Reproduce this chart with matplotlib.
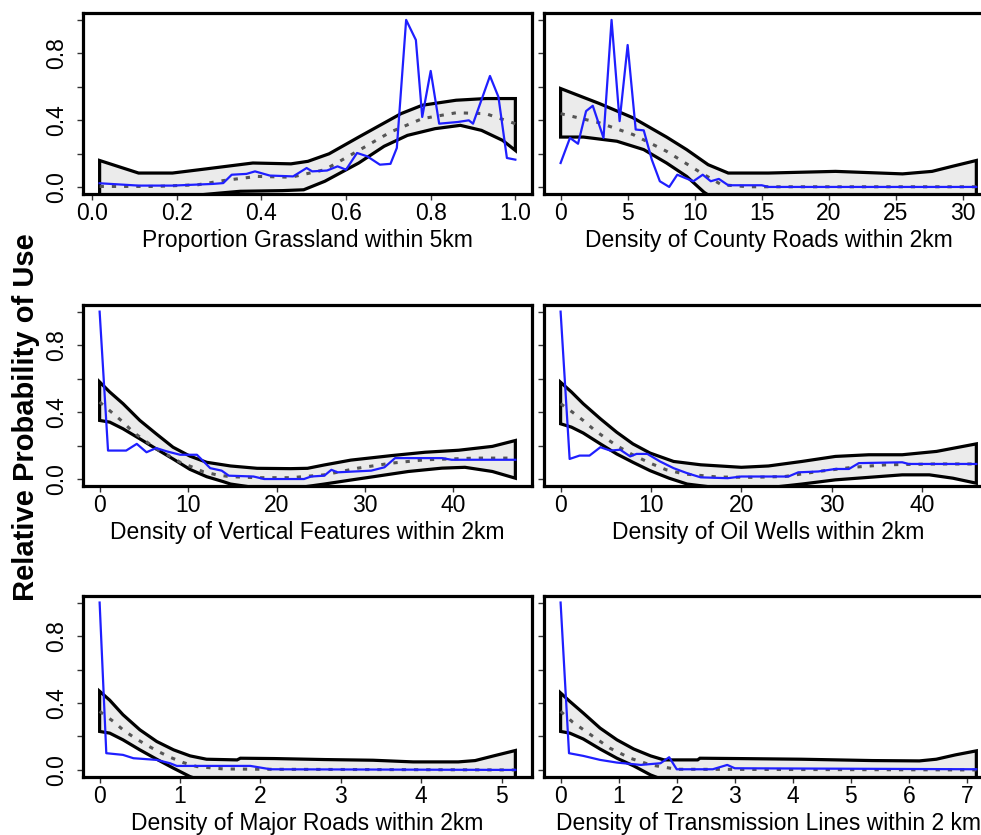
import numpy as np
import matplotlib
matplotlib.use("Agg")
import matplotlib.pyplot as plt

plt.rcParams['font.family'] = ['Liberation Sans', 'DejaVu Sans']

# panel titles (x labels) and x tick values
xlabels = ["Proportion Grassland within 5km", "Density of County Roads within 2km",
           "Density of Vertical Features within 2km", "Density of Oil Wells within 2km",
           "Density of Major Roads within 2km", "Density of Transmission Lines within 2 km"]
xticks = [[0.0, 0.2, 0.4, 0.6, 0.8, 1.0], [0, 5, 10, 15, 20, 25, 30],
          [0, 10, 20, 30, 40], [0, 10, 20, 30, 40],
          [0, 1, 2, 3, 4, 5], [0, 1, 2, 3, 4, 5, 6, 7]]

# 1 grassland
grass_up_x = [0.018, 0.11, 0.19, 0.27, 0.38, 0.47, 0.51, 0.56, 0.63, 0.68, 0.73, 0.78, 0.86, 0.93, 1.0]
grass_up_y = [0.16, 0.085, 0.085, 0.11, 0.145, 0.14, 0.155, 0.20, 0.30, 0.37, 0.44, 0.49, 0.52, 0.53, 0.53]
grass_lo_x = [0.018, 0.15, 0.3, 0.35, 0.45, 0.5, 0.55, 0.63, 0.69, 0.745, 0.81, 0.87, 0.92, 0.97, 1.0]
grass_lo_y = [-0.10, -0.07, -0.035, -0.024, -0.02, -0.015, 0.036, 0.145, 0.245, 0.31, 0.35, 0.37, 0.34, 0.28, 0.22]
grass_mean_x = [0.018, 0.15, 0.25, 0.31, 0.39, 0.47, 0.55, 0.63, 0.705, 0.78, 0.86, 0.93, 1.0]
grass_mean_y = [0.005, 0.005, 0.015, 0.04, 0.065, 0.06, 0.105, 0.22, 0.33, 0.41, 0.445, 0.44, 0.38]
grass_obs_x = [0.018, 0.11, 0.19, 0.285, 0.31, 0.33, 0.365, 0.385, 0.42, 0.475, 0.507, 0.52, 0.555, 0.58,
               0.60, 0.626, 0.65, 0.68, 0.705, 0.72, 0.742, 0.765, 0.78, 0.80, 0.82, 0.864, 0.89, 0.90,
               0.94, 0.96, 0.98, 1.0]
grass_obs_y = [0.024, 0.01, 0.01, 0.02, 0.025, 0.075, 0.08, 0.095, 0.07, 0.065, 0.115, 0.095, 0.10, 0.125,
               0.105, 0.205, 0.185, 0.135, 0.14, 0.235, 1.0, 0.88, 0.42, 0.695, 0.38, 0.39, 0.40, 0.38,
               0.665, 0.54, 0.175, 0.165]

# 2 county roads
county_up_x = [0, 2.9, 5.4, 7.9, 9.4, 11.0, 12.5, 15.5, 20.5, 25.5, 27.7, 29.2, 31.0]
county_up_y = [0.59, 0.50, 0.415, 0.30, 0.225, 0.135, 0.085, 0.085, 0.095, 0.08, 0.095, 0.125, 0.16]
county_lo_x = [0, 1.7, 4.2, 6.2, 7.9, 9.4, 10.7, 13, 20, 31.0]
county_lo_y = [0.30, 0.30, 0.275, 0.225, 0.145, 0.065, -0.03, -0.15, -0.2, -0.15]
county_mean_x = [0, 2.9, 5.4, 7.9, 10.5, 12.0, 14, 31.0]
county_mean_y = [0.44, 0.385, 0.315, 0.215, 0.085, 0.015, 0.003, 0.003]
county_obs_x = [0, 0.7, 1.3, 1.9, 2.4, 3.2, 3.8, 4.4, 5.0, 5.6, 6.2, 6.8, 7.4, 8.1, 8.7, 9.3, 9.9,
                10.6, 11.2, 11.8, 12.5, 15.0, 15.5, 31.0]
county_obs_y = [0.145, 0.295, 0.26, 0.455, 0.487, 0.295, 1.0, 0.395, 0.85, 0.345, 0.34, 0.165, 0.036,
                0.002, 0.075, 0.055, 0.036, 0.075, 0.036, 0.05, 0.012, 0.012, 0.002, 0.002]

# 3 vertical features
vert_up_x = [0, 1.14, 2.65, 4.55, 6.4, 8.3, 10.2, 12.1, 14.8, 17.8, 21.6, 23.5, 25.4, 28.4, 33, 36.8, 40.6, 44.4, 47]
vert_up_y = [0.58, 0.52, 0.45, 0.35, 0.27, 0.19, 0.137, 0.10, 0.078, 0.064, 0.062, 0.064, 0.084, 0.113, 0.14,
             0.16, 0.172, 0.195, 0.23]
vert_lo_x = [0, 1.14, 2.65, 4.55, 6.4, 8.3, 10.2, 12.1, 14.0, 14.8, 20, 25.4, 28.4, 31.1, 34.9, 38.7, 41.3, 44.4, 47]
vert_lo_y = [0.35, 0.34, 0.30, 0.24, 0.18, 0.12, 0.058, 0.014, -0.016, -0.03, -0.07, -0.03, -0.006, 0.015,
             0.045, 0.065, 0.07, 0.045, 0.005]
vert_mean_x = [0, 1.33, 2.65, 3.8, 5.1, 6.4, 7.8, 9.1, 10.4, 11.7, 13.3, 14.8, 17.8, 21.6, 25.4, 29.2, 33,
               36.8, 42.5, 47]
vert_mean_y = [0.46, 0.40, 0.34, 0.28, 0.23, 0.18, 0.14, 0.10, 0.073, 0.044, 0.024, 0.014, 0.008, 0.008,
               0.025, 0.065, 0.095, 0.115, 0.125, 0.125]
vert_obs_x = [0, 0.95, 3.0, 4.2, 5.3, 6.4, 7.6, 9.1, 11.0, 12.5, 13.8, 14.6, 17.4, 18.6, 23.1, 23.9,
              25.4, 26.2, 26.9, 28.8, 30.7, 32.2, 33.4, 38.7, 39.8, 47]
vert_obs_y = [1.0, 0.17, 0.17, 0.21, 0.16, 0.185, 0.165, 0.145, 0.145, 0.065, 0.05, 0.02, 0.015, 0.0,
              0.0, 0.015, 0.02, 0.055, 0.04, 0.045, 0.05, 0.07, 0.125, 0.125, 0.115, 0.115]

# 4 oil wells
oil_up_x = [0, 1.2, 2.5, 4.4, 6.2, 8.0, 9.9, 12.5, 15.5, 20, 23, 26.7, 30.4, 34.1, 37.8, 41.6, 46]
oil_up_y = [0.578, 0.52, 0.45, 0.36, 0.28, 0.21, 0.155, 0.105, 0.085, 0.07, 0.078, 0.105, 0.135, 0.145,
            0.145, 0.165, 0.21]
oil_lo_x = [0, 1.2, 2.5, 4.4, 6.2, 8.0, 9.9, 12.0, 14, 20, 26.7, 30.4, 34.1, 37.8, 40.8, 43.4, 46]
oil_lo_y = [0.33, 0.31, 0.275, 0.21, 0.15, 0.10, 0.05, 0.005, -0.03, -0.07, -0.03, -0.005, 0.01, 0.025,
            0.025, 0.005, -0.025]
oil_mean_x = [0, 1.3, 2.5, 3.8, 5.1, 6.2, 7.8, 9.9, 11.7, 13.7, 17.4, 21.1, 24.8, 28.5, 32.3, 36, 41.6, 46]
oil_mean_y = [0.45, 0.40, 0.35, 0.29, 0.24, 0.20, 0.15, 0.095, 0.055, 0.03, 0.012, 0.01, 0.015, 0.045,
              0.07, 0.085, 0.09, 0.09]
oil_obs_x = [0, 1.0, 2.1, 3.2, 4.4, 5.5, 6.6, 7.7, 8.4, 9.6, 11.0, 12.5, 14.0, 15.5, 18.5, 20.0, 25.2,
             26.3, 28.5, 30.4, 31.9, 33.0, 37.8, 38.5, 46]
oil_obs_y = [1.0, 0.12, 0.14, 0.14, 0.19, 0.17, 0.175, 0.135, 0.15, 0.15, 0.105, 0.065, 0.035, 0.01,
             0.005, 0.015, 0.015, 0.04, 0.045, 0.06, 0.06, 0.095, 0.1, 0.09, 0.09]

# 5 major roads
major_up_x = [0, 0.125, 0.29, 0.5, 0.71, 0.92, 1.125, 1.33, 1.71, 1.75, 2.17, 2.8, 3.4, 3.9, 4.46, 4.67, 4.9, 5.17]
major_up_y = [0.47, 0.417, 0.33, 0.24, 0.17, 0.12, 0.084, 0.064, 0.06, 0.07, 0.068, 0.062, 0.058, 0.048,
              0.048, 0.056, 0.084, 0.116]
major_lo_x = [0, 0.125, 0.29, 0.5, 0.71, 0.92, 1.125, 1.5, 2.5, 5.17]
major_lo_y = [0.23, 0.22, 0.18, 0.12, 0.064, 0.01, -0.04, -0.1, -0.15, -0.2]
major_mean_x = [0, 0.17, 0.29, 0.44, 0.58, 0.73, 0.875, 1.04, 1.21, 1.54, 2.0, 5.17]
major_mean_y = [0.35, 0.29, 0.24, 0.19, 0.15, 0.11, 0.076, 0.044, 0.02, 0.006, 0.004, 0.0]
major_obs_x = [0, 0.083, 0.29, 0.42, 0.71, 0.875, 0.96, 1.875, 2.125, 5.17]
major_obs_y = [1.0, 0.10, 0.09, 0.07, 0.06, 0.04, 0.024, 0.024, 0.004, 0.0]

# 6 transmission lines
trans_up_x = [0, 0.157, 0.39, 0.68, 0.97, 1.26, 1.55, 1.78, 2.36, 2.4, 3.05, 4.15, 5.37, 6.18, 6.47, 6.8, 7.16]
trans_up_y = [0.46, 0.41, 0.34, 0.25, 0.18, 0.125, 0.084, 0.06, 0.06, 0.07, 0.068, 0.064, 0.056, 0.054,
              0.064, 0.09, 0.114]
trans_lo_x = [0, 0.157, 0.39, 0.68, 0.97, 1.26, 1.55, 2.0, 7.16]
trans_lo_y = [0.23, 0.22, 0.185, 0.125, 0.07, 0.024, -0.03, -0.09, -0.2]
trans_mean_x = [0, 0.21, 0.56, 0.85, 1.2, 1.55, 2.0, 7.16]
trans_mean_y = [0.35, 0.285, 0.2, 0.13, 0.07, 0.03, 0.004, 0.0]
trans_obs_x = [0, 0.145, 0.39, 0.68, 0.97, 1.38, 1.72, 1.87, 2.0, 2.62, 2.87, 3.0, 7.16]
trans_obs_y = [1.0, 0.10, 0.084, 0.06, 0.044, 0.03, 0.04, 0.076, 0.004, 0.004, 0.03, 0.01, 0.004]

panels = [
    (grass_up_x, grass_up_y, grass_lo_x, grass_lo_y, grass_mean_x, grass_mean_y, grass_obs_x, grass_obs_y),
    (county_up_x, county_up_y, county_lo_x, county_lo_y, county_mean_x, county_mean_y, county_obs_x, county_obs_y),
    (vert_up_x, vert_up_y, vert_lo_x, vert_lo_y, vert_mean_x, vert_mean_y, vert_obs_x, vert_obs_y),
    (oil_up_x, oil_up_y, oil_lo_x, oil_lo_y, oil_mean_x, oil_mean_y, oil_obs_x, oil_obs_y),
    (major_up_x, major_up_y, major_lo_x, major_lo_y, major_mean_x, major_mean_y, major_obs_x, major_obs_y),
    (trans_up_x, trans_up_y, trans_lo_x, trans_lo_y, trans_mean_x, trans_mean_y, trans_obs_x, trans_obs_y),
]

fig = plt.figure(figsize=(9.81, 8.35), dpi=100)
lefts = [0.0846, 0.5545]
bottoms = [0.7677, 0.4183, 0.0699]
W, H = 0.4577, 0.2165

for i, (ux, uy, lx, ly, mx, my, ox, oy) in enumerate(panels):
    row, col = i // 2, i % 2
    ax = fig.add_axes([lefts[col], bottoms[row], W, H])
    # confidence band as one polygon (upper forward, lower back)
    px = list(ux) + list(lx)[::-1]
    py = list(uy) + list(ly)[::-1]
    ax.fill(px, py, facecolor="#ebebeb", edgecolor="black", linewidth=2.3, zorder=2)
    ax.plot(mx, my, color="#555555", linestyle=(0, (1.4, 2.6)), linewidth=2.2, zorder=3)
    ax.plot(ox, oy, color="#1f1fff", linewidth=1.6, zorder=4)

    xmin, xmax = min(ux), max(ux)
    r = xmax - xmin
    ax.set_xlim(xmin - 0.04 * r, xmax + 0.04 * r)
    ax.set_ylim(-0.04, 1.04)
    ax.set_xticks(xticks[i])
    if i == 0:
        ax.set_xticklabels(["%.1f" % v for v in xticks[i]])
    ax.set_yticks([0, 0.2, 0.4, 0.6, 0.8, 1.0])
    if col == 0:
        ax.set_yticklabels(["0.0", "", "0.4", "", "0.8", ""], rotation=90, va="center")
    else:
        ax.set_yticklabels([])
    ax.tick_params(axis="both", labelsize=16.5, length=4, width=1, color="#333333")
    ax.tick_params(axis="x", pad=2)
    ax.tick_params(axis="y", pad=7)
    ax.set_xlabel(xlabels[i], fontsize=16.5, labelpad=3)
    for s in ax.spines.values():
        s.set_linewidth(2.3)
        s.set_zorder(5)

fig.text(0.0265, 0.5, "Relative Probability of Use", rotation=90, ha="center", va="center",
         fontsize=21, fontweight="bold")

fig.savefig("out.png", dpi=100)
